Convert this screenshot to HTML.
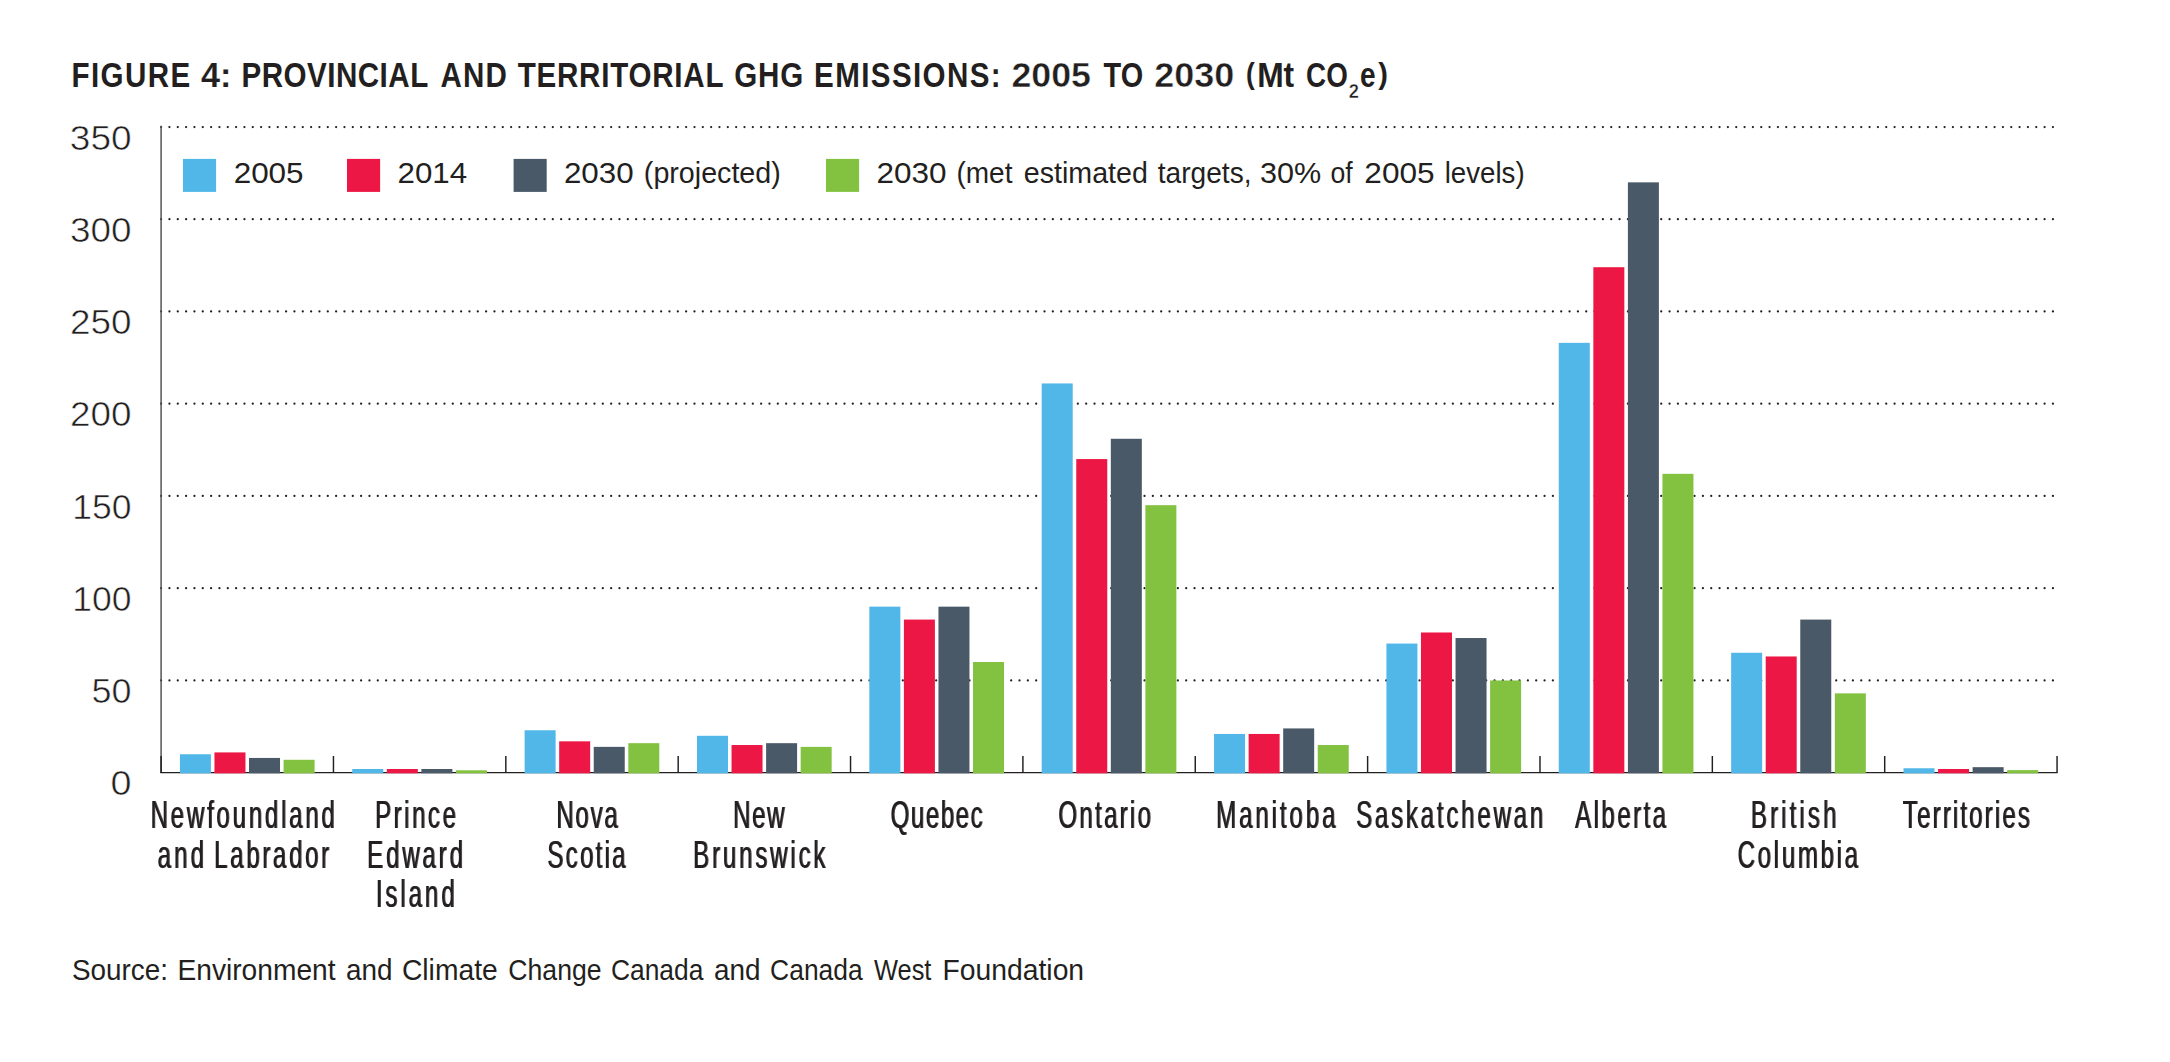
<!DOCTYPE html>
<html lang="en">
<head>
<meta charset="utf-8">
<title>Figure 4: Provincial and territorial GHG emissions: 2005 to 2030 (Mt CO2e)</title>
<style>
html,body{margin:0;padding:0;background:#fff;}
body{width:2170px;height:1062px;overflow:hidden;}
svg{display:block;}
text{font-family:'Liberation Sans', sans-serif;fill:#231f20;}
</style>
</head>
<body>
<svg width="2170" height="1062" viewBox="0 0 2170 1062" role="img" aria-label="Provincial and territorial GHG emissions bar chart">
<defs><filter id="hb" x="-5%" y="-20%" width="110%" height="140%" color-interpolation-filters="sRGB"><feOffset dx="1" dy="0"/><feComponentTransfer result="o"><feFuncA type="linear" slope="0.8"/></feComponentTransfer><feMerge><feMergeNode in="SourceGraphic"/><feMergeNode in="o"/></feMerge></filter></defs>
<rect width="2170" height="1062" fill="#fff"/>
<g class="gridlines" stroke="#231f20" stroke-width="2.25" stroke-linecap="round" stroke-dasharray="0 8.334" fill="none">
<path d="M161.1 680.46H2053.6"/>
<path d="M161.1 588.21H2053.6"/>
<path d="M161.1 495.97H2053.6"/>
<path d="M161.1 403.73H2053.6"/>
<path d="M161.1 311.49H2053.6"/>
<path d="M161.1 219.24H2053.6"/>
<path d="M161.1 127H2053.6"/>
</g>
<path d="M161.1 125.8V773.1" class="y-axis" stroke="#565354" stroke-width="1.5" fill="none"/>
<g class="x-axis" stroke="#231f20" fill="none">
<path d="M160.35 772.55H2057.5" stroke-width="1.3"/>
<path d="M161.1 756.1V772.7M333.46 756.1V772.7M505.82 756.1V772.7M678.18 756.1V772.7M850.54 756.1V772.7M1022.9 756.1V772.7M1195.26 756.1V772.7M1367.62 756.1V772.7M1539.98 756.1V772.7M1712.34 756.1V772.7M1884.7 756.1V772.7M2057.06 756.1V772.7" stroke-width="1.45"/>
</g>
<g class="bars">
<rect x="179.9" y="754.25" width="31" height="19.05" fill="#50b7e8"/>
<rect x="214.46" y="752.41" width="31" height="20.89" fill="#ed1745"/>
<rect x="249.02" y="757.94" width="31" height="15.36" fill="#4a5967"/>
<rect x="283.58" y="759.79" width="31" height="13.51" fill="#82c240"/>
<rect x="352.26" y="769.01" width="31" height="4.29" fill="#50b7e8"/>
<rect x="386.82" y="769.01" width="31" height="4.29" fill="#ed1745"/>
<rect x="421.38" y="769.01" width="31" height="4.29" fill="#4a5967"/>
<rect x="455.94" y="770.3" width="31" height="3" fill="#82c240"/>
<rect x="524.62" y="730.27" width="31" height="43.03" fill="#50b7e8"/>
<rect x="559.18" y="741.34" width="31" height="31.96" fill="#ed1745"/>
<rect x="593.74" y="746.87" width="31" height="26.43" fill="#4a5967"/>
<rect x="628.3" y="743.18" width="31" height="30.12" fill="#82c240"/>
<rect x="696.98" y="735.8" width="31" height="37.5" fill="#50b7e8"/>
<rect x="731.54" y="745.03" width="31" height="28.27" fill="#ed1745"/>
<rect x="766.1" y="743.18" width="31" height="30.12" fill="#4a5967"/>
<rect x="800.66" y="746.87" width="31" height="26.43" fill="#82c240"/>
<rect x="869.34" y="606.66" width="31" height="166.64" fill="#50b7e8"/>
<rect x="903.9" y="619.58" width="31" height="153.72" fill="#ed1745"/>
<rect x="938.46" y="606.66" width="31" height="166.64" fill="#4a5967"/>
<rect x="973.02" y="662.01" width="31" height="111.29" fill="#82c240"/>
<rect x="1041.7" y="383.44" width="31" height="389.86" fill="#50b7e8"/>
<rect x="1076.26" y="459.07" width="31" height="314.23" fill="#ed1745"/>
<rect x="1110.82" y="438.78" width="31" height="334.52" fill="#4a5967"/>
<rect x="1145.38" y="505.2" width="31" height="268.1" fill="#82c240"/>
<rect x="1214.06" y="733.96" width="31" height="39.34" fill="#50b7e8"/>
<rect x="1248.62" y="733.96" width="31" height="39.34" fill="#ed1745"/>
<rect x="1283.18" y="728.42" width="31" height="44.88" fill="#4a5967"/>
<rect x="1317.74" y="745.03" width="31" height="28.27" fill="#82c240"/>
<rect x="1386.42" y="643.56" width="31" height="129.74" fill="#50b7e8"/>
<rect x="1420.98" y="632.49" width="31" height="140.81" fill="#ed1745"/>
<rect x="1455.54" y="638.03" width="31" height="135.27" fill="#4a5967"/>
<rect x="1490.1" y="680.46" width="31" height="92.84" fill="#82c240"/>
<rect x="1558.78" y="342.85" width="31" height="430.45" fill="#50b7e8"/>
<rect x="1593.34" y="267.21" width="31" height="506.09" fill="#ed1745"/>
<rect x="1627.9" y="182.35" width="31" height="590.95" fill="#4a5967"/>
<rect x="1662.46" y="473.83" width="31" height="299.47" fill="#82c240"/>
<rect x="1731.14" y="652.78" width="31" height="120.52" fill="#50b7e8"/>
<rect x="1765.7" y="656.47" width="31" height="116.83" fill="#ed1745"/>
<rect x="1800.26" y="619.58" width="31" height="153.72" fill="#4a5967"/>
<rect x="1834.82" y="693.37" width="31" height="79.93" fill="#82c240"/>
<rect x="1903.5" y="768.27" width="31" height="5.03" fill="#50b7e8"/>
<rect x="1938.06" y="769.01" width="31" height="4.29" fill="#ed1745"/>
<rect x="1972.62" y="767.17" width="31" height="6.13" fill="#4a5967"/>
<rect x="2007.18" y="770.12" width="31" height="3.18" fill="#82c240"/>
</g>
<g class="legend-swatches">
<rect x="183" y="158.9" width="33.1" height="33" fill="#50b7e8"/>
<rect x="347" y="158.9" width="33.1" height="33" fill="#ed1745"/>
<rect x="513.6" y="158.9" width="33.1" height="33" fill="#4a5967"/>
<rect x="826" y="158.9" width="33.1" height="33" fill="#82c240"/>
</g>
<g class="title">
<text y="87.1" font-size="34.8" font-weight="bold"><tspan x="71.4" textLength="120.25" lengthAdjust="spacingAndGlyphs" letter-spacing="1.67" y="87.1">FIGURE</tspan> <tspan x="200.98" textLength="30.39" lengthAdjust="spacingAndGlyphs" y="87.1" font-size="35" stroke="#fff" stroke-width="0.15">4:</tspan> <tspan x="241.5" textLength="187.2" lengthAdjust="spacingAndGlyphs" letter-spacing="0.56" y="87.1">PROVINCIAL</tspan> <tspan x="440.6" textLength="67.2" lengthAdjust="spacingAndGlyphs" letter-spacing="1.22" y="87.1">AND</tspan> <tspan x="517.7" textLength="206.57" lengthAdjust="spacingAndGlyphs" letter-spacing="0.89" y="87.1">TERRITORIAL</tspan> <tspan x="734.15" textLength="69.82" lengthAdjust="spacingAndGlyphs" letter-spacing="0.96" y="87.1">GHG</tspan> <tspan x="814.1" textLength="187.98" lengthAdjust="spacingAndGlyphs" letter-spacing="1.62" y="87.1">EMISSIONS:</tspan> <tspan x="1011.46" textLength="79.5" lengthAdjust="spacingAndGlyphs" y="87.1" font-size="35.3" stroke="#fff" stroke-width="0.45">2005</tspan> <tspan x="1103.6" textLength="39.58" lengthAdjust="spacingAndGlyphs" y="87.1">TO</tspan> <tspan x="1154.36" textLength="80.01" lengthAdjust="spacingAndGlyphs" y="87.1" font-size="35.3" stroke="#fff" stroke-width="0.45">2030</tspan> <tspan x="1246.1" textLength="8.78" lengthAdjust="spacingAndGlyphs" y="84.3" font-size="29.3">(</tspan><tspan x="1257.17" textLength="37.05" lengthAdjust="spacingAndGlyphs" y="87.1">Mt</tspan> <tspan x="1306.1" textLength="41.65" lengthAdjust="spacingAndGlyphs" y="87.1">CO</tspan><tspan x="1348.8" textLength="10.2" lengthAdjust="spacingAndGlyphs" y="97.8" font-size="19.6" stroke="#fff" stroke-width="0.4">2</tspan><tspan x="1359.99" textLength="15.59" lengthAdjust="spacingAndGlyphs" y="87.1">e</tspan><tspan x="1378.2" textLength="9.65" lengthAdjust="spacingAndGlyphs" y="84.3" font-size="29.3">)</tspan></text>
</g>
<g class="y-axis-labels">
<text y="795.4" font-size="34.8" stroke="#fff" stroke-width="0.55"><tspan x="110.64" textLength="21" lengthAdjust="spacingAndGlyphs">0</tspan></text>
<text y="703.16" font-size="34.8" stroke="#fff" stroke-width="0.55"><tspan x="91.59" textLength="39.98" lengthAdjust="spacingAndGlyphs">50</tspan></text>
<text y="610.91" font-size="34.8" stroke="#fff" stroke-width="0.55"><tspan x="72.28" textLength="59.27" lengthAdjust="spacingAndGlyphs">100</tspan></text>
<text y="518.67" font-size="34.8" stroke="#fff" stroke-width="0.55"><tspan x="72.28" textLength="59.27" lengthAdjust="spacingAndGlyphs">150</tspan></text>
<text y="426.43" font-size="34.8" stroke="#fff" stroke-width="0.55"><tspan x="70.06" textLength="61.54" lengthAdjust="spacingAndGlyphs">200</tspan></text>
<text y="334.19" font-size="34.8" stroke="#fff" stroke-width="0.55"><tspan x="70.06" textLength="61.54" lengthAdjust="spacingAndGlyphs">250</tspan></text>
<text y="241.94" font-size="34.8" stroke="#fff" stroke-width="0.55"><tspan x="70.06" textLength="61.54" lengthAdjust="spacingAndGlyphs">300</tspan></text>
<text y="149.7" font-size="34.8" stroke="#fff" stroke-width="0.55"><tspan x="69.86" textLength="61.75" lengthAdjust="spacingAndGlyphs">350</tspan></text>
</g>
<g class="legend-labels">
<text y="183" font-size="30"><tspan x="233.65" textLength="69.97" lengthAdjust="spacingAndGlyphs">2005</tspan></text>
<text y="183" font-size="30"><tspan x="397.56" textLength="69.56" lengthAdjust="spacingAndGlyphs">2014</tspan></text>
<text y="183" font-size="30"><tspan x="563.95" textLength="69.76" lengthAdjust="spacingAndGlyphs">2030</tspan> <tspan x="643.85" textLength="136.9" lengthAdjust="spacingAndGlyphs">(projected)</tspan></text>
<text y="183" font-size="30"><tspan x="876.55" textLength="70.07" lengthAdjust="spacingAndGlyphs">2030</tspan> <tspan x="956.47" textLength="56.01" lengthAdjust="spacingAndGlyphs">(met</tspan> <tspan x="1023.75" textLength="124.16" lengthAdjust="spacingAndGlyphs">estimated</tspan> <tspan x="1157.8" textLength="93.69" lengthAdjust="spacingAndGlyphs">targets,</tspan> <tspan x="1259.98" textLength="61.21" lengthAdjust="spacingAndGlyphs">30%</tspan> <tspan x="1330.41" textLength="22.2" lengthAdjust="spacingAndGlyphs">of</tspan> <tspan x="1364.35" textLength="70.27" lengthAdjust="spacingAndGlyphs">2005</tspan> <tspan x="1444.66" textLength="79.96" lengthAdjust="spacingAndGlyphs">levels)</tspan></text>
</g>
<g class="category-labels">
<text y="828" font-size="39" filter="url(#hb)"><tspan x="150.14" textLength="187.12" lengthAdjust="spacingAndGlyphs" letter-spacing="4.37" y="828">Newfoundland</tspan> <tspan x="157.28" textLength="49.38" lengthAdjust="spacingAndGlyphs" letter-spacing="4.86" y="867.6">and</tspan> <tspan x="213.74" textLength="117.78" lengthAdjust="spacingAndGlyphs" letter-spacing="4.23" y="867.6">Labrador</tspan></text>
<text y="828" font-size="39" filter="url(#hb)"><tspan x="374.64" textLength="83.5" lengthAdjust="spacingAndGlyphs" letter-spacing="4.02" y="828">Prince</tspan> <tspan x="366.74" textLength="98.69" lengthAdjust="spacingAndGlyphs" letter-spacing="4.49" y="867.6">Edward</tspan> <tspan x="375.54" textLength="81.66" lengthAdjust="spacingAndGlyphs" letter-spacing="4.61" y="907">Island</tspan></text>
<text y="828" font-size="39" filter="url(#hb)"><tspan x="555.94" textLength="63.14" lengthAdjust="spacingAndGlyphs" letter-spacing="2.7" y="828">Nova</tspan> <tspan x="546.98" textLength="80.55" lengthAdjust="spacingAndGlyphs" letter-spacing="3.59" y="867.6">Scotia</tspan></text>
<text y="828" font-size="39" filter="url(#hb)"><tspan x="732.84" textLength="52.98" lengthAdjust="spacingAndGlyphs" letter-spacing="2.48" y="828">New</tspan> <tspan x="692.74" textLength="135.23" lengthAdjust="spacingAndGlyphs" letter-spacing="4.49" y="867.6">Brunswick</tspan></text>
<text y="828" font-size="39" filter="url(#hb)"><tspan x="890.18" textLength="93.74" lengthAdjust="spacingAndGlyphs" letter-spacing="2.43" y="828">Quebec</tspan></text>
<text y="828" font-size="39" filter="url(#hb)"><tspan x="1058.08" textLength="94.76" lengthAdjust="spacingAndGlyphs" letter-spacing="3.56" y="828">Ontario</tspan></text>
<text y="828" font-size="39" filter="url(#hb)"><tspan x="1215.64" textLength="122.44" lengthAdjust="spacingAndGlyphs" letter-spacing="4.63" y="828">Manitoba</tspan></text>
<text y="828" font-size="39" filter="url(#hb)"><tspan x="1355.68" textLength="190" lengthAdjust="spacingAndGlyphs" letter-spacing="4.4" y="828">Saskatchewan</tspan></text>
<text y="828" font-size="39" filter="url(#hb)"><tspan x="1574.8" textLength="93.29" lengthAdjust="spacingAndGlyphs" letter-spacing="3.84" y="828">Alberta</tspan></text>
<text y="828" font-size="39" filter="url(#hb)"><tspan x="1750.44" textLength="88.8" lengthAdjust="spacingAndGlyphs" letter-spacing="4.98" y="828">British</tspan> <tspan x="1737.18" textLength="123.27" lengthAdjust="spacingAndGlyphs" letter-spacing="4.26" y="867.6">Columbia</tspan></text>
<text y="828" font-size="39" filter="url(#hb)"><tspan x="1902.6" textLength="128.99" lengthAdjust="spacingAndGlyphs" letter-spacing="3.35" y="828">Territories</tspan></text>
</g>
<g class="source">
<text y="980.1" font-size="29.8"><tspan x="71.97" textLength="95.96" lengthAdjust="spacingAndGlyphs">Source:</tspan> <tspan x="177.51" textLength="158.01" lengthAdjust="spacingAndGlyphs">Environment</tspan> <tspan x="345.96" textLength="46.51" lengthAdjust="spacingAndGlyphs">and</tspan> <tspan x="401.95" textLength="95.79" lengthAdjust="spacingAndGlyphs">Climate</tspan> <tspan x="508.31" textLength="93.3" lengthAdjust="spacingAndGlyphs">Change</tspan> <tspan x="610.91" textLength="92.51" lengthAdjust="spacingAndGlyphs">Canada</tspan> <tspan x="714.06" textLength="46.51" lengthAdjust="spacingAndGlyphs">and</tspan> <tspan x="770.11" textLength="92.61" lengthAdjust="spacingAndGlyphs">Canada</tspan> <tspan x="874" textLength="57.39" lengthAdjust="spacingAndGlyphs">West</tspan> <tspan x="942.6" textLength="141.49" lengthAdjust="spacingAndGlyphs">Foundation</tspan></text>
</g>
</svg>
</body>
</html>
